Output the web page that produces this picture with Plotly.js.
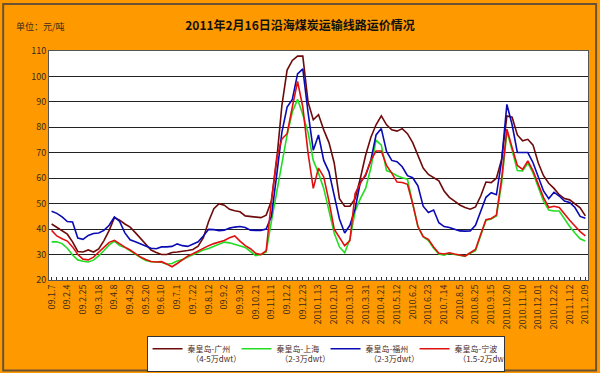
<!DOCTYPE html>
<html>
<head>
<meta charset="utf-8">
<script src="https://cdn.plot.ly/plotly-3.0.1.min.js"></script>
<style>html,body{margin:0;padding:0;background:#fff;}#chart{width:600px;height:373px;}</style>
</head>
<body>
<div id="chart"></div>
<script>
// tick labels (every third week)
var tickLabels = ["09.1.7","09.2.4","09.2.25","09.3.18","09.4.8","09.4.29","09.5.20","09.6.10","09.7.1","09.7.22","09.8.12","09.9.2","09.9.30","09.10.21","09.11.11","09.12.2","09.12.23","2010.1.13","2010.2.10","2010.3.10","2010.3.31","2010.4.21","2010.5.12","2010.6.2","2010.6.23","2010.7.14","2010.8.5","2010.8.25","2010.9.15","2010.10.20","2010.11.10","2010.12.01","2010.12.22","2011.1.12","2011.2.09"];

var seriesNames = ["秦皇岛-广州<br>\u00a0\u00a0（4-5万dwt）","秦皇岛-上海<br>\u00a0\u00a0（2-3万dwt）","秦皇岛-福州<br>\u00a0\u00a0（2-3万dwt）","秦皇岛-宁波<br>\u00a0\u00a0（1.5-2万dwt）"];

var guangzhou = [42,40.6,39.5,38,35,31.2,31,31.8,31,32.2,35.5,39.5,44.5,43.5,42,40.8,38.6,36.4,34.2,31.8,30.8,30,30,30.8,31,31.2,31.6,32,33.3,36.6,43,48,50,49.4,47.8,47.2,46.8,45.2,45,44.6,44.5,45.5,51,66.8,88.5,102.5,106.3,108,108,90,83,85,79,74,66,52,49,49,52,60,69,76,81,84.5,81,79,78.5,79.5,77.5,74,69,64,61.5,60.2,59,55,52.5,51,49.5,48.5,47.8,48.7,53,58.5,58.3,60,67.5,84.5,84,77,74.7,75.3,73,66,61,58,56,53.5,52,51.5,49.8,48.4,45.2];

var shanghai = [35,35,34.3,32.5,29.8,27.9,27.4,27.1,27.8,29.5,31.6,33.8,35.3,33.5,32.8,31.4,30,28.8,27.7,27.2,27.1,27,26.2,26.5,27.5,28,29,30,30.7,31.8,32.4,33.3,34.2,34.9,34.6,34,33.6,32.8,31.2,29.6,30,31,43,54,66,77,86,91,85,78,67,62,56,47.5,38.5,33,30.7,36,47,52,56,64,75,73,63,62.2,61,60.2,59.6,50,41,37,35.5,32.5,30.2,29.8,30.5,30,29.6,29.4,30.5,31.5,37.5,43.5,44,45.2,58,78.5,71,63,62.9,66,62,56.3,51,47.5,47.1,47.1,44,41,38.5,36.2,35.3];

var fuzhou = [47,46.2,44.8,43,42.8,36.5,36,37.5,38.3,38.5,39.5,41.5,44.8,43,38.5,35.8,35,34.2,33.4,32.5,32.3,33,33,33.2,34.2,33.5,33.2,34.2,35,37.3,39.9,39.8,39.4,39.6,40.4,40.8,41,40.6,39.6,39.5,39.5,40,45,61,78,88,91,101,103,86,71,77,67,62.5,53,44,38.5,41.5,48,58.5,61,67,77,79.5,70.5,67,66.5,64.5,61,60.2,57,49,46.5,47.5,42.5,41,40.6,40,39.3,39.2,39.3,41.5,47,52.5,54.3,53.5,67,89,81,70.1,70.1,70.1,66.1,60.2,55,52,54.5,53,51,50.5,48.5,45,44.3];

var ningbo = [39.5,37.3,36.2,35.3,33,30,28.2,27.9,29,31,33.2,34.8,35.6,34.2,32.9,31.8,30.3,29,28.1,27.3,27.1,27.2,26.3,25.2,26.5,27.8,29.4,30.3,31.4,32.5,33.5,34.3,34.8,35.5,36.6,37.3,35.3,33.5,32.3,30.5,30,31.5,51,68,75.4,77.5,88,98,88,70,56,64,60.5,51,40,36.5,33.5,35.5,54,58,61.5,67,70.7,70.7,65,62,58.5,58.3,57.6,50,41,37,36,33,30.5,30.2,30.7,30.2,29.8,29.4,30.7,32,38,43.7,44.2,45.5,60,79.3,72,65,63.5,66.8,62.9,57.6,52.4,48.5,49,48.5,45.8,43.5,41.2,39,37.3];

var colors = ["#6e0a0a","#22dd22","#0a0ab4","#e01010"];
var allData = [guangzhou, shanghai, fuzhou, ningbo];

var idx = guangzhou.map(function(_, i){ return i; });
var tickVals = tickLabels.map(function(_, k){ return k*3; });

var traces = allData.map(function(vals, s){
  return {
    type: 'scatter', mode: 'lines',
    x: idx, y: vals,
    name: seriesNames[s],
    line: {color: colors[s], width: 1.6},
    hoverinfo: 'skip'
  };
});

var font = '"Noto Sans CJK SC", "DejaVu Sans", sans-serif';

var layout = {
  width: 600, height: 373,
  margin: {l: 49, r: 12, t: 51, b: 93, autoexpand: false},
  paper_bgcolor: '#FF9900',
  plot_bgcolor: '#ffffff',
  font: {family: font, size: 9, color: '#3a2a1a'},
  title: {
    text: '<b>2011年2月16日沿海煤炭运输线路运价情况</b>',
    x: 0.5, xanchor: 'center', y: 0.93, yanchor: 'middle',
    font: {family: font, size: 12, color: '#111'}
  },
  showlegend: true,
  legend: {
    orientation: 'h',
    x: 0.181, xanchor: 'left',
    y: -0.245, yanchor: 'top',
    bgcolor: '#ffffff', bordercolor: '#333', borderwidth: 1,
    font: {family: font, size: 8, color: '#4a2a1a'},
    itemwidth: 30, tracegroupgap: 0, valign: 'top',
    entrywidth: 44, entrywidthmode: 'pixels'
  },
  xaxis: {
    range: [-0.5, 102.5],
    tickmode: 'array', tickvals: tickVals, ticktext: tickLabels,
    tickangle: -90,
    tickfont: {family: font, size: 9, color: '#3a2a1a'},
    ticks: 'inside', ticklen: 3, tickcolor: '#333',
    minor: {dtick: 1, tick0: 0, ticks: 'inside', ticklen: 3, tickcolor: '#333'},
    showgrid: false, zeroline: false,
    showline: true, linecolor: '#555', linewidth: 1, mirror: true
  },
  yaxis: {
    range: [20, 110], dtick: 10, tick0: 20,
    tickfont: {family: font, size: 9, color: '#3a2a1a'},
    ticks: '', showgrid: true, gridcolor: '#222', gridwidth: 1,
    zeroline: false, showline: true, linecolor: '#555', linewidth: 1, mirror: true
  },
  annotations: [{
    text: '单位：元/吨', xref: 'paper', yref: 'paper',
    x: -0.065, y: 1.07, xanchor: 'left', yanchor: 'bottom', showarrow: false,
    font: {family: font, size: 9, color: '#3a2a1a'}
  }],
  shapes: [{
    type: 'rect', xref: 'paper', yref: 'paper',
    x0: -0.085, x1: 1.015, y0: -0.395, y1: 1.205,
    line: {color: '#6b5233', width: 2}, fillcolor: 'rgba(0,0,0,0)', layer: 'above'
  }]
};

Plotly.newPlot('chart', traces, layout, {displayModeBar: false, staticPlot: true});
</script>
</body>
</html>
